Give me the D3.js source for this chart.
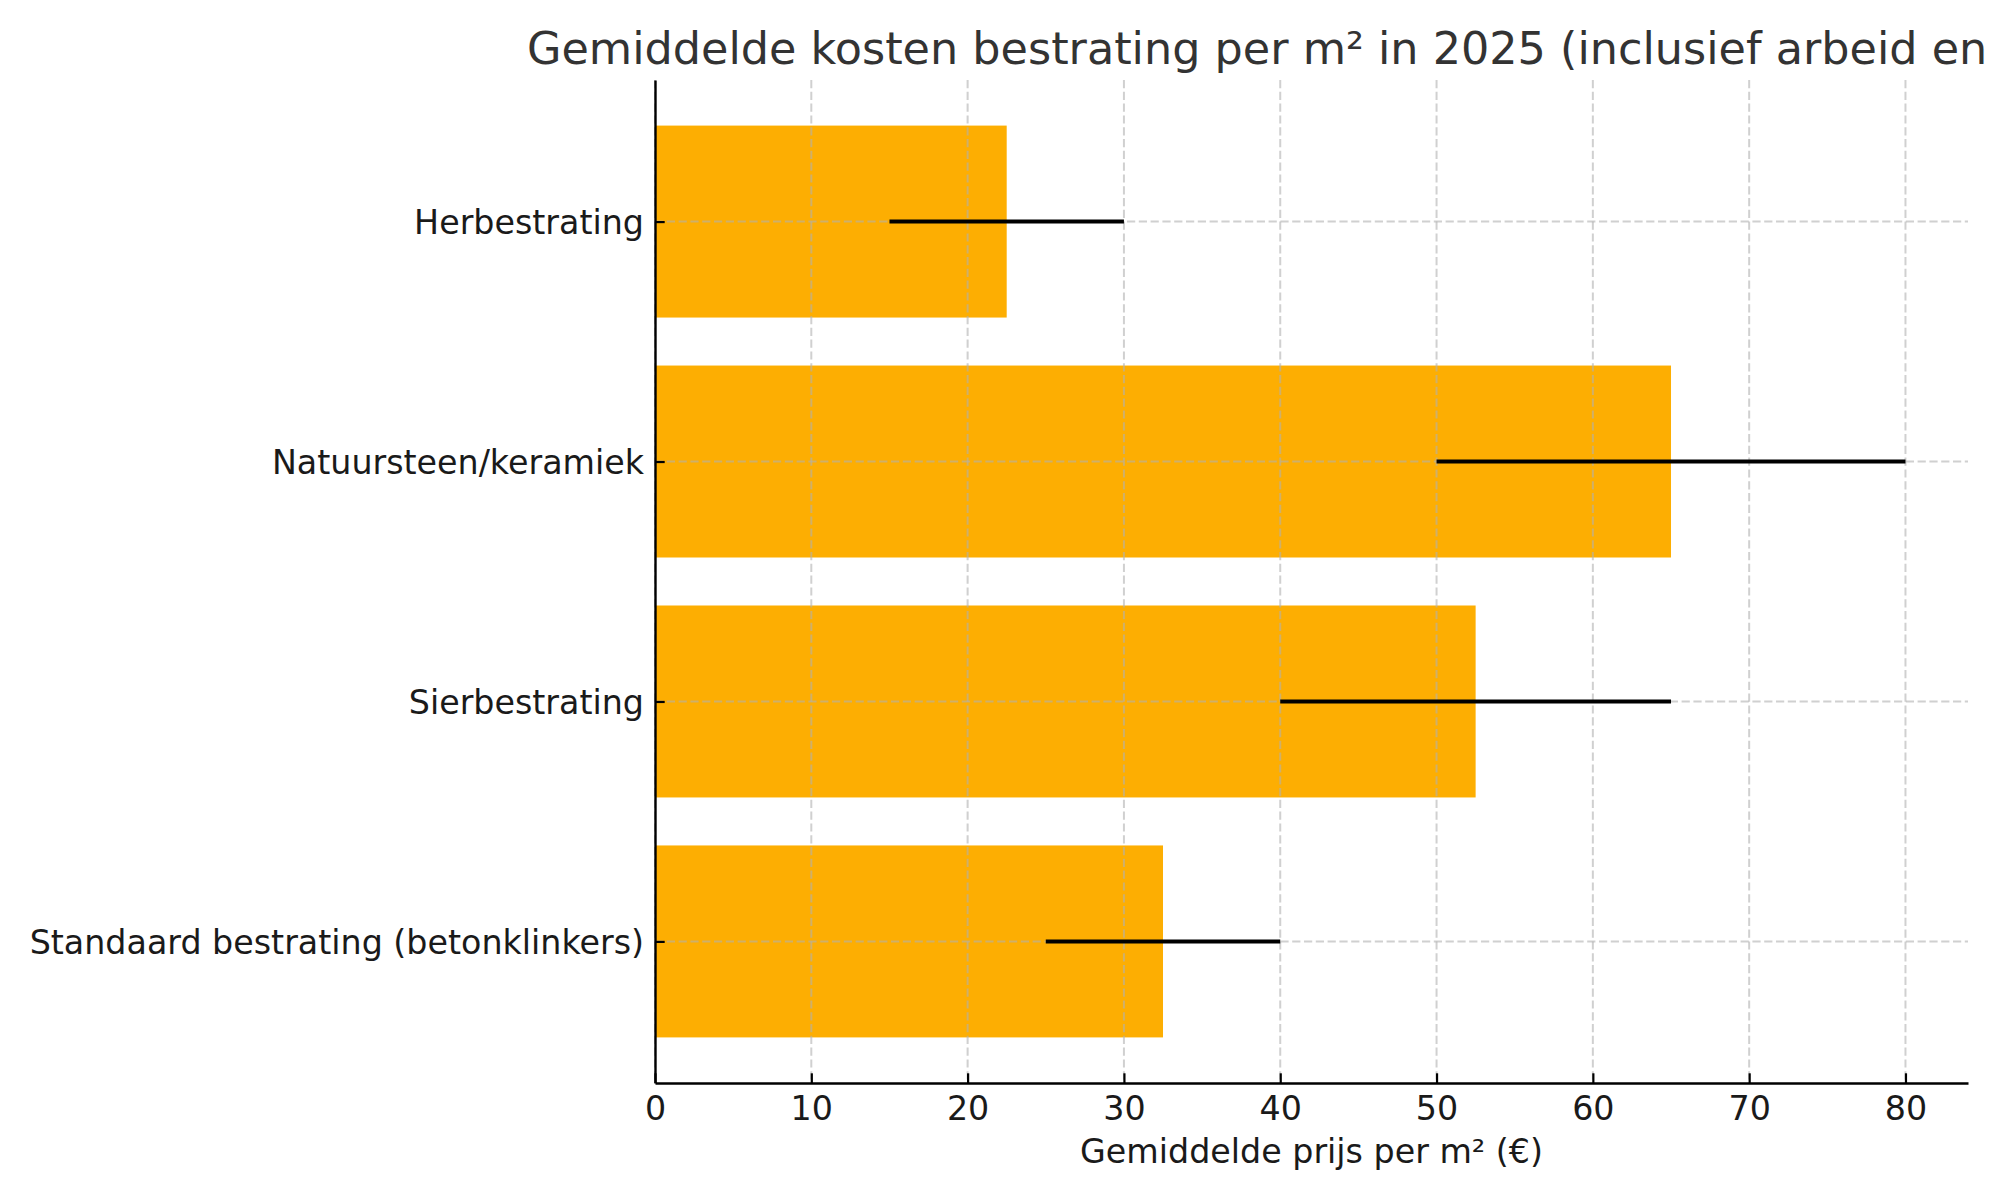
<!DOCTYPE html>
<html>
<head>
<meta charset="utf-8">
<script src="https://cdn.jsdelivr.net/npm/d3@7/dist/d3.min.js"></script>
<style>
  html, body { margin: 0; padding: 0; background: #fff; }
  svg { display: block; }
  text { font-family: "DejaVu Sans", sans-serif; }
</style>
</head>
<body>
<svg id="chart" width="2000" height="1200"></svg>
<script>
// Categories (matplotlib order: index 0 at the bottom)
const categories = [
  "Standaard bestrating (betonklinkers)",
  "Sierbestrating",
  "Natuursteen/keramiek",
  "Herbestrating"
];
// Price range per m² (€)
const minPrice = [25, 40, 50, 15];
const maxPrice = [40, 65, 80, 30];
// Average price per m² (€) = bar length
const avgPrice = [32.5, 52.5, 65, 22.5];
const xTicks = [0, 10, 20, 30, 40, 50, 60, 70, 80];

const titleText = "Gemiddelde kosten bestrating per m² in 2025 (inclusief arbeid en btw)";
const xLabelText = "Gemiddelde prijs per m² (€)";

const W = 2000, H = 1200;
const plot = { left: 655, right: 1968, top: 80, bottom: 1083 };
const FS = 33.3;

const svg = d3.select("#chart");

const x = d3.scaleLinear().domain([0, 84]).range([plot.left, plot.right]);
const y = d3.scaleLinear().domain([-0.59, 3.59]).range([plot.bottom, plot.top]);
const barH = y(0) - y(0.8);

const data = categories.map((c, i) => ({ cat: c, i, avg: avgPrice[i], lo: minPrice[i], hi: maxPrice[i] }));

// Bars
svg.append("g").selectAll("rect").data(data).join("rect")
  .attr("x", x(0))
  .attr("y", d => y(d.i) - barH / 2)
  .attr("width", d => x(d.avg) - x(0))
  .attr("height", barH)
  .attr("fill", "#fdae02");

// Grid (above bars, below error lines)
const grid = svg.append("g")
  .attr("stroke", "#b0b0b0")
  .attr("stroke-opacity", 0.6)
  .attr("stroke-width", 2)
  .attr("stroke-dasharray", "8.2,3.6");
grid.selectAll("line.v").data(xTicks).join("line")
  .attr("class", "v")
  .attr("x1", d => x(d)).attr("x2", d => x(d))
  .attr("y1", plot.top).attr("y2", plot.bottom);
grid.selectAll("line.h").data(data).join("line")
  .attr("class", "h")
  .attr("x1", plot.left).attr("x2", plot.right)
  .attr("y1", d => y(d.i)).attr("y2", d => y(d.i));

// Error lines (range)
svg.append("g").selectAll("line").data(data).join("line")
  .attr("x1", d => x(d.lo)).attr("x2", d => x(d.hi))
  .attr("y1", d => y(d.i)).attr("y2", d => y(d.i))
  .attr("stroke", "#000")
  .attr("stroke-width", 4);

// X axis
const xAxis = d3.axisBottom(x).tickValues(xTicks).tickFormat(d3.format("d"))
  .tickSizeInner(-9.7).tickSizeOuter(0).tickPadding(13);
const gx = svg.append("g").attr("transform", `translate(0,${plot.bottom})`).call(xAxis);
gx.select(".domain").attr("stroke", "#000").attr("stroke-width", 2.4);
gx.selectAll(".tick line").attr("stroke", "#000").attr("stroke-width", 2.2);
gx.selectAll(".tick text").attr("font-size", FS).attr("fill", "#1a1a1a")
  .attr("font-family", "DejaVu Sans");

// Y axis
const yAxis = d3.axisLeft(y).tickValues(data.map(d => d.i)).tickFormat(i => categories[i])
  .tickSizeInner(-9.7).tickSizeOuter(0).tickPadding(11);
const gy = svg.append("g").attr("transform", `translate(${plot.left},0)`).call(yAxis);
gy.select(".domain").attr("stroke", "#000").attr("stroke-width", 2.4);
gy.selectAll(".tick line").attr("stroke", "#000").attr("stroke-width", 2.2);
gy.selectAll(".tick text").attr("font-size", FS).attr("fill", "#1a1a1a")
  .attr("font-family", "DejaVu Sans").attr("dy", "0.36em");

// X label
svg.append("text")
  .attr("x", (plot.left + plot.right) / 2)
  .attr("y", 1163)
  .attr("text-anchor", "middle")
  .attr("font-size", FS)
  .attr("fill", "#1a1a1a")
  .text(xLabelText);

// Title
svg.append("text")
  .attr("x", 527)
  .attr("y", 64)
  .attr("text-anchor", "start")
  .attr("font-size", 44.5)
  .attr("fill", "#333333")
  .text(titleText);
</script>
</body>
</html>
